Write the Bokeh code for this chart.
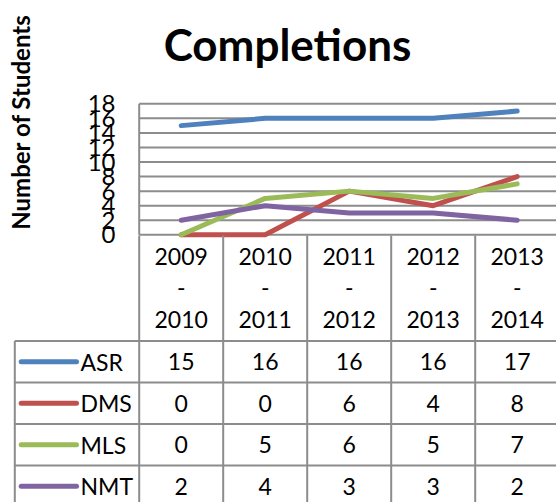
import math
from bokeh.plotting import figure
from bokeh.models import Range1d
from bokeh.embed import file_html
from bokeh.resources import INLINE
from bokeh.core.properties import value

# ---------------- data ----------------
categories = ["2009 - 2010", "2010 - 2011", "2011 - 2012", "2012 - 2013", "2013 - 2014"]
series_names = ["ASR", "DMS", "MLS", "NMT"]
asr = [15, 16, 16, 16, 17]
dms = [0, 0, 6, 4, 8]
mls = [0, 5, 6, 5, 7]
nmt = [2, 4, 3, 3, 2]
y_ticks = [0, 2, 4, 6, 8, 10, 12, 14, 16, 18]
title_text = "Completions"
y_label_text = "Number of Students"

series_values = [asr, dms, mls, nmt]
colors = ["#4F81BD", "#C0504D", "#9BBB59", "#8064A2"]

# ---------------- layout constants (picture pixels) ----------------
FONT = "Lato"
GRID = "#8c8c8c"
FIG_W, FIG_H = 556, 502
COL_W = 84.0               # px per category column
BOUND0 = 138.7             # x of first column boundary
Y0_PX, Y18_PX = 234.3, 103.3
PX_PER_V = (Y0_PX - Y18_PX) / max(y_ticks)
TABLE_TOP = 340.5          # y of first table row line
ROW_H = 41.5
HDR_TOP = 235.0


def px_x(px):
    return -0.5 + (px - BOUND0) / COL_W


def px_v(py):
    return (Y0_PX - py) / PX_PER_V


def px_r(py):
    return (TABLE_TOP - py) / ROW_H


x_lo, x_hi = px_x(0), px_x(FIG_W)
v_lo, v_hi = px_v(FIG_H), px_v(0)
r_lo, r_hi = px_r(FIG_H), px_r(0)

p = figure(width=FIG_W, height=FIG_H, output_backend="svg", toolbar_location=None,
           x_range=Range1d(x_lo, x_hi), y_range=Range1d(v_lo, v_hi),
           x_axis_location=None, y_axis_location=None,
           min_border_left=0, min_border_right=0, min_border_top=0, min_border_bottom=0)
p.extra_y_ranges = {"table": Range1d(r_lo, r_hi)}
p.outline_line_color = None
p.xgrid.visible = False
p.ygrid.visible = False
p.background_fill_color = "white"
p.border_fill_color = "white"

n = len(categories)
xs = list(range(n))
n_rows = len(series_names)

# ---------------- chart area ----------------
p.segment(x0=[-0.5] * len(y_ticks), y0=y_ticks, x1=[x_hi] * len(y_ticks), y1=y_ticks,
          line_color=GRID, line_width=2)
p.segment(x0=[-0.5], y0=[min(y_ticks)], x1=[-0.5], y1=[max(y_ticks)],
          line_color=GRID, line_width=2)

for vals, c in zip(series_values, colors):
    p.line(xs, vals, line_color=c, line_width=5, line_cap="round", line_join="round")

# y tick labels
p.text(x=[px_x(115)] * len(y_ticks), y=y_ticks, text=[str(v) for v in y_ticks],
       text_align="right", text_baseline="middle", text_font=value(FONT),
       text_font_size="24px", text_color="black")

# y axis title
p.text(x=[px_x(20)], y=[px_v(121.5)], text=[y_label_text], angle=math.pi / 2,
       text_align="center", text_baseline="middle", text_font=value(FONT),
       text_font_size="24px", text_font_style="bold", text_color="black")

# chart title
p.text(x=[px_x(287)], y=[px_v(43)], text=[title_text], text_align="center",
       text_baseline="middle", text_font=value(FONT), text_font_size="44px",
       text_font_style="bold", text_color="black")

# ---------------- data table ----------------
hdr_top = px_r(HDR_TOP)
table_left = px_x(14.3)
vb = [i - 0.5 for i in range(n + 1)]
p.segment(x0=vb, y0=[hdr_top] * len(vb), x1=vb, y1=[r_lo] * len(vb),
          line_color=GRID, line_width=2, y_range_name="table")
p.segment(x0=[table_left], y0=[0], x1=[table_left], y1=[r_lo],
          line_color=GRID, line_width=2, y_range_name="table")
hb = [-r for r in range(n_rows + 1)]
p.segment(x0=[table_left] * len(hb), y0=hb, x1=[x_hi] * len(hb), y1=hb,
          line_color=GRID, line_width=2, y_range_name="table")

# category header labels on three lines
parts = [c.split(" - ") for c in categories]
hdr_lines = [[pp[0] for pp in parts], ["-"] * n, [pp[1] for pp in parts]]
hdr_centers = [255.5, 287.0, 318.5]
for txts, cy in zip(hdr_lines, hdr_centers):
    p.text(x=xs, y=[px_r(cy)] * n, text=txts, text_align="center",
           text_baseline="middle", text_font=value(FONT), text_font_size="23px",
           text_color="black", y_range_name="table")

# legend keys and series names
row_c = [-(r + 0.5) for r in range(n_rows)]
p.segment(x0=[px_x(20.7)] * n_rows, y0=row_c, x1=[px_x(76)] * n_rows, y1=row_c,
          line_color=colors, line_width=5, line_cap="round", y_range_name="table")
p.text(x=[px_x(80)] * n_rows, y=row_c, text=series_names, text_align="left",
       text_baseline="middle", text_font=value(FONT), text_font_size="23px",
       text_color="black", y_range_name="table")

# values
vx, vy, vt = [], [], []
for r, vals in enumerate(series_values):
    for j, v in enumerate(vals):
        vx.append(j)
        vy.append(row_c[r])
        vt.append(str(v))
p.text(x=vx, y=vy, text=vt, text_align="center", text_baseline="middle",
       text_font=value(FONT), text_font_size="23px", text_color="black",
       y_range_name="table")

open("out.html", "w").write(file_html(p, INLINE))
